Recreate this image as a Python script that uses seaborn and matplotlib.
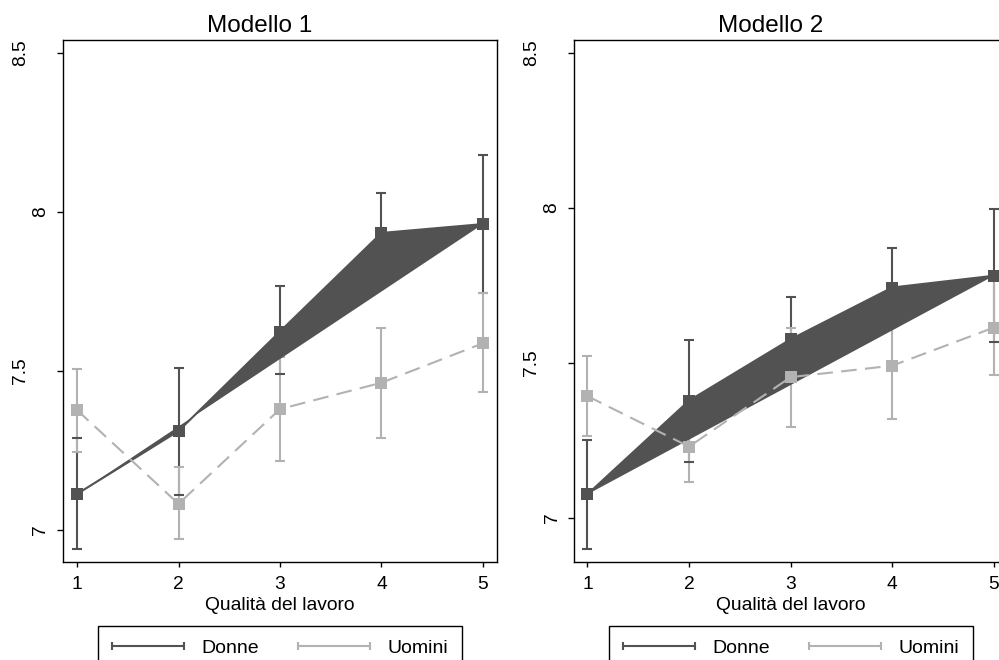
import numpy as np
import pandas as pd
import matplotlib
matplotlib.use("Agg")
import matplotlib.pyplot as plt
import matplotlib.transforms as mtransforms
from matplotlib.lines import Line2D
from matplotlib.legend_handler import HandlerLine2D
import seaborn as sns

# ---------------- data ----------------
qualita = [1, 2, 3, 4, 5]
titoli = ["Modello 1", "Modello 2"]
serie = ["Donne", "Uomini"]
xlabel = "Qualità del lavoro"
ytick_vals = [7, 7.5, 8, 8.5]
ytick_labels = ["7", "7.5", "8", "8.5"]

# Modello 1
donne1 = [7.113, 7.311, 7.624, 7.934, 7.962]
donne1_lo = [6.941, 7.110, 7.490, 7.807, 7.746]
donne1_hi = [7.290, 7.510, 7.767, 8.061, 8.179]
uomini1 = [7.377, 7.082, 7.380, 7.463, 7.587]
uomini1_lo = [7.246, 6.970, 7.217, 7.290, 7.435]
uomini1_hi = [7.506, 7.197, 7.545, 7.634, 7.745]

# Modello 2
donne2 = [7.076, 7.378, 7.576, 7.743, 7.781]
donne2_lo = [6.900, 7.180, 7.440, 7.616, 7.568]
donne2_hi = [7.250, 7.575, 7.714, 7.870, 7.996]
uomini2 = [7.393, 7.230, 7.454, 7.491, 7.614]
uomini2_lo = [7.263, 7.116, 7.294, 7.320, 7.460]
uomini2_hi = [7.521, 7.345, 7.614, 7.660, 7.770]

modelli = [
    (donne1, donne1_lo, donne1_hi, uomini1, uomini1_lo, uomini1_hi),
    (donne2, donne2_lo, donne2_hi, uomini2, uomini2_lo, uomini2_hi),
]

# ---------------- style ----------------
sns.set_style("white")
plt.rcParams["font.family"] = ["Liberation Sans", "DejaVu Sans"]
for k in ["text.color", "axes.labelcolor", "xtick.color", "ytick.color"]:
    plt.rcParams[k] = "black"

DARK = "#525252"
LIGHT = "#b2b2b2"

fig = plt.figure(figsize=(9.99, 6.6), dpi=100)
W, H = 999.0, 660.0

# axes geometry in pixels: (left, top, right, bottom)
geoms = [(63, 40, 497, 562), (574, 40, 1008, 562)]
ylims = [(6.899, 8.541), (6.858, 8.541)]
xlims = [(0.862, 5.138), (0.869, 5.138)]
title_x = [259.5, 770.8]


def draw_ci(ax, x, y, lo, hi, color, z_spike, z_cap):
    cont = ax.errorbar(x, y, yerr=[y - lo, hi - y], fmt="none", ecolor=color,
                       elinewidth=1.5, capsize=3.3, capthick=1.5)
    _, caps, bars = cont
    for c in caps:
        c.set_zorder(z_cap)
    for bcol in bars:
        bcol.set_zorder(z_spike)


for i, (g, mod) in enumerate(zip(geoms, modelli)):
    l, t, r, b = g
    ax = fig.add_axes([l / W, (H - b) / H, (r - l) / W, (b - t) / H])
    d, dlo, dhi, u, ulo, uhi = [np.asarray(a, dtype=float) for a in mod]
    x = np.asarray(qualita, dtype=float)

    draw_ci(ax, x, d, dlo, dhi, DARK, 1.0, 2.5)
    draw_ci(ax, x, u, ulo, uhi, LIGHT, 2.0, 2.6)
    # Donne filled area
    ax.fill(x, d, color=DARK, linewidth=0, zorder=3)

    df_d = pd.DataFrame({"qualita": x, "valore": d})
    df_u = pd.DataFrame({"qualita": x, "valore": u})
    sns.lineplot(data=df_d, x="qualita", y="valore", ax=ax, color=DARK,
                 marker="s", markersize=8.5, markeredgewidth=0, linewidth=1.5,
                 errorbar=None, zorder=4)
    sns.lineplot(data=df_u, x="qualita", y="valore", ax=ax, color=LIGHT,
                 marker="s", markersize=8.5, markeredgewidth=0, linewidth=1.5,
                 linestyle=(0, (7.5, 4)), errorbar=None, zorder=5)

    ax.set_xlim(*xlims[i])
    ax.set_ylim(*ylims[i])
    ax.set_xticks(qualita)
    ax.set_xticklabels([str(q) for q in qualita], fontsize=13.8)
    ax.set_yticks(ytick_vals)
    ax.tick_params(axis="y", labelleft=False, direction="out", length=4.3,
                   width=1.0, color="black", left=True)
    ax.tick_params(axis="x", direction="out", length=3.8, width=1.0,
                   color="black", bottom=True, pad=6.5)
    for s in ax.spines.values():
        s.set_visible(True)
        s.set_color("black")
        s.set_linewidth(1.0)
    ax.set_xlabel(xlabel, fontsize=13.9, labelpad=2.5)
    ax.set_ylabel("")

    # rotated y tick labels placed like the original
    base = mtransforms.blended_transform_factory(ax.transAxes, ax.transData)
    for v, lab in zip(ytick_vals, ytick_labels):
        off = -42.5 if "." in lab else -22.0
        tr = base + mtransforms.ScaledTranslation(off / 100.0, 0, fig.dpi_scale_trans)
        ax.text(0, v, lab, transform=tr, rotation=90, ha="center", va="center",
                fontsize=13.8)

    fig.text(title_x[i] / W, (H - 31.7) / H, titoli[i], ha="center",
             va="baseline", fontsize=17.5)

    handles = [
        Line2D([], [], color=DARK, lw=1.5, marker="|", markersize=5.5, mew=1.5),
        Line2D([], [], color=LIGHT, lw=1.5, marker="|", markersize=5.5, mew=1.5),
    ]
    cx = (l + r) / 2.0
    leg = fig.legend(handles, serie, loc="upper center",
                     bbox_to_anchor=(cx / W, (H - 626) / H),
                     bbox_transform=fig.transFigure, ncol=2, numpoints=2,
                     handler_map={Line2D: HandlerLine2D(marker_pad=0)},
                     fontsize=14, handlelength=3.7, handletextpad=0.9,
                     columnspacing=2.0, borderpad=0.7, borderaxespad=0,
                     frameon=True, fancybox=False, framealpha=1,
                     edgecolor="black")
    leg.get_frame().set_linewidth(1.0)

fig.savefig("out.png", dpi=100, facecolor="white")
